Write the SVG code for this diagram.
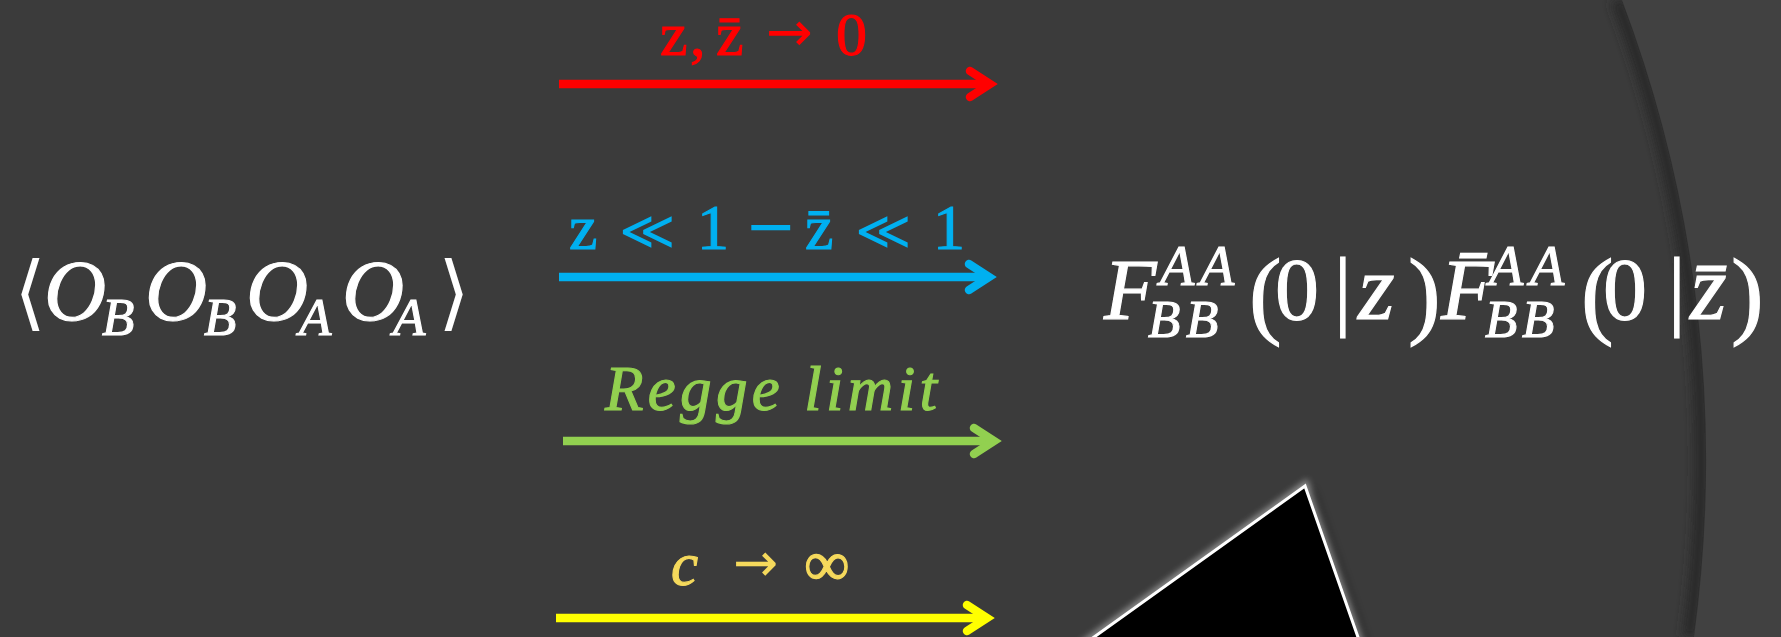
<svg xmlns="http://www.w3.org/2000/svg" width="1781" height="637" viewBox="0 0 1781 637">
<defs>
<style>
.m{font-family:"Liberation Serif","DejaVu Serif",serif;fill:#ffffff;stroke:#ffffff;stroke-width:1.1}
.it{font-style:italic}
.up{font-style:normal}
.sym{font-family:"DejaVu Sans",sans-serif;font-style:normal;stroke-width:0}
.ln{fill:none;stroke-width:8.5;stroke-linecap:butt}
.hd{fill:none;stroke-width:8.5;stroke-linecap:round;stroke-linejoin:miter;stroke-miterlimit:10}
</style>
<filter id="blur5" x="-20%" y="-20%" width="140%" height="140%"><feGaussianBlur stdDeviation="5"/></filter>
<filter id="blur3" x="-20%" y="-20%" width="140%" height="140%"><feGaussianBlur stdDeviation="3"/></filter>
</defs>
<rect x="0" y="0" width="1781" height="637" fill="#3b3b3b"/>
<path d="M1622,0 A1301,1301 0 0 1 1694,637" fill="none" stroke="#2b2b2b" stroke-width="14" filter="url(#blur5)" transform="translate(-5,0)"/>
<path d="M1622,0 A1301,1301 0 0 1 1694,637 L1781,637 L1781,0 Z" fill="#414141"/>

<g id="triangle">
<polygon points="1305,486 1062,660 1366,660" fill="#000" opacity="0.7" filter="url(#blur5)" transform="translate(7,4)"/>
<polygon points="1305,486 1062,660 1366,660" fill="none" stroke="#b0b0b0" stroke-width="9" opacity="0.7" filter="url(#blur3)"/>
<polygon points="1305,486 1062,660 1366,660" fill="#000" stroke="#ffffff" stroke-width="3"/>
</g>

<g id="node-left">
<text class="m it" font-size="86" y="320"><tspan class="sym" x="14" font-size="82">⟨</tspan><tspan x="44">O</tspan><tspan x="102" y="335" font-size="53">B</tspan><tspan x="145" y="320">O</tspan><tspan x="204" y="335" font-size="53">B</tspan><tspan x="246" y="320">O</tspan><tspan x="299" y="335" font-size="53">A</tspan><tspan x="342" y="320">O</tspan><tspan x="393" y="335" font-size="53">A</tspan><tspan class="sym" x="438" y="320" font-size="82">⟩</tspan></text>
</g>

<g id="node-right">
<text class="m it" font-size="86" y="319"><tspan x="1104">F</tspan><tspan x="1160 1200" y="285" font-size="56">AA</tspan><tspan x="1148 1186" y="337" font-size="53">BB</tspan><tspan class="up" x="1249" y="326" font-size="98">(</tspan><tspan class="up" x="1275" y="319" font-size="88">0</tspan><tspan class="up" x="1334" font-size="88">|</tspan><tspan x="1358" font-size="94">z</tspan><tspan class="up" x="1408" y="326" font-size="98">)</tspan><tspan x="1441" y="319">F̄</tspan><tspan x="1489 1530" y="285" font-size="56">AA</tspan><tspan x="1485 1522" y="337" font-size="53">BB</tspan><tspan class="up" x="1581" y="326" font-size="98">(</tspan><tspan class="up" x="1603" y="319" font-size="88">0</tspan><tspan class="up" x="1668" font-size="88">|</tspan><tspan x="1690" font-size="94">z̄</tspan><tspan class="up" x="1731" y="326" font-size="98">)</tspan></text>
</g>

<g id="connectors">
<g id="arrow-red">
<line class="ln" x1="559" y1="84" x2="990" y2="84" stroke="#ff0000"/>
<polyline class="hd" points="970,71 990,84 970,97" stroke="#ff0000"/>
<text class="m up" font-size="62" y="55" style="fill:#ff0000;stroke:#ff0000"><tspan x="660">z</tspan><tspan x="690">,</tspan><tspan x="716">z̄</tspan><tspan class="sym" x="766" font-size="56" y="51">→</tspan><tspan x="836" y="55">0</tspan></text>
</g>
<g id="arrow-blue">
<line class="ln" x1="559" y1="277" x2="989" y2="277" stroke="#00b0f0"/>
<polyline class="hd" points="969,264 989,277 969,290" stroke="#00b0f0"/>
<text class="m up" font-size="64" y="249" style="fill:#00b0f0;stroke:#00b0f0"><tspan x="569">z</tspan><tspan class="sym" x="619" font-size="54">≪</tspan><tspan x="697">1</tspan><tspan class="sym" x="745" font-size="62" y="247">−</tspan><tspan x="805" y="249">z̄</tspan><tspan class="sym" x="855" font-size="54">≪</tspan><tspan x="933">1</tspan></text>
</g>
<g id="arrow-green">
<line class="ln" x1="563" y1="441" x2="994" y2="441" stroke="#92d050"/>
<polyline class="hd" points="974,428 994,441 974,454" stroke="#92d050"/>
<text class="m it" font-size="63" x="605" y="410" textLength="332" lengthAdjust="spacing" style="fill:#92d050;stroke:#92d050">Regge limit</text>
</g>
<g id="arrow-yellow">
<line class="ln" x1="556" y1="618" x2="987" y2="618" stroke="#ffff00"/>
<polyline class="hd" points="967,605 987,618 967,631" stroke="#ffff00"/>
<text class="m" font-size="61" y="585" style="fill:#f5d95c;stroke:#f5d95c"><tspan class="it" x="671">c</tspan><tspan class="sym" x="733" font-size="54" y="581">→</tspan><tspan class="up" x="804" y="585" font-size="64">∞</tspan></text>
</g>
</g>
</svg>
